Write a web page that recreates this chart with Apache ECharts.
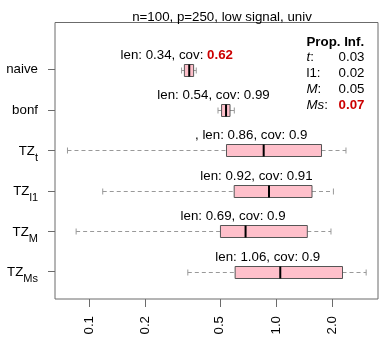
<!DOCTYPE html>
<html>
<head>
<meta charset="utf-8">
<script src="https://cdn.jsdelivr.net/npm/echarts@6/dist/echarts.min.js"></script>
<style>html,body{margin:0;padding:0;background:#fff}#c{width:388px;height:347px}</style>
</head>
<body>
<div id="c"></div>
<script>
// ---- data ----
const categories   = ['naive', 'bonf', 'TZ_t', 'TZ_l1', 'TZ_M', 'TZ_Ms'];
const whiskerLow   = [0.312, 0.489, 0.0764, 0.118, 0.085, 0.337];
const q1           = [0.323, 0.511, 0.543, 0.597, 0.504, 0.604];
const median       = [0.343, 0.540, 0.859, 0.917, 0.687, 1.054];
const q3           = [0.362, 0.567, 1.753, 1.559, 1.471, 2.271];
const whiskerHigh  = [0.374, 0.598, 2.37, 2.03, 1.97, 3.04];
const lenLabels    = ['0.34', '0.54', '0.86', '0.92', '0.69', '1.06'];
const covLabels    = ['0.62', '0.99', '0.9', '0.91', '0.9', '0.9'];
const covHighlight = [true, false, false, false, false, false];
const labelPrefix  = ['', '', ', ', '', '', ''];
const xTickValues  = [0.1, 0.2, 0.5, 1.0, 2.0];
const xTickLabels  = ['0.1', '0.2', '0.5', '1.0', '2.0'];
const propNames    = ['t', 'l1', 'M', 'Ms'];
const propItalic   = [true, false, true, true];
const propValues   = ['0.03', '0.02', '0.05', '0.07'];
const propHighlight= [false, false, false, true];
const titleText    = 'n=100, p=250, low signal, univ';
const xRange       = [0.0655, 3.518];

// ---- styling ----
const FF = "'Liberation Sans', Arial, Helvetica, sans-serif";
const FS = 13.3;
const RED = '#CC0000';
const FRAME = '#6b6b6b';
const lg = v => Math.log10(v);

const seriesData = categories.map((c, i) => [i + 1, lg(whiskerLow[i]), lg(q1[i]), lg(median[i]), lg(q3[i]), lg(whiskerHigh[i])]);

function catLabel(name) {
  const k = name.indexOf('_');
  if (k < 0) return '{n|' + name + '}';
  return '{a|' + name.slice(0, k) + '}{s|' + name.slice(k + 1) + '}';
}

function renderItem(params, api) {
  const i = params.dataIndex;
  const yv = api.value(0);
  const pLo = api.coord([api.value(1), yv]);
  const pQ1 = api.coord([api.value(2), yv]);
  const pMed = api.coord([api.value(3), yv]);
  const pQ3 = api.coord([api.value(4), yv]);
  const pHi = api.coord([api.value(5), yv]);
  const cy = Math.round(pMed[1]) + 0.5;
  const h = 6, cap = 3;
  const wStyle = { stroke: '#999999', lineWidth: 1, lineDash: [4, 3] };
  const txt = labelPrefix[i] + 'len: ' + lenLabels[i] + ', cov: ' +
    (covHighlight[i] ? '{r|' + covLabels[i] + '}' : covLabels[i]);
  return {
    type: 'group',
    children: [
      { type: 'line', shape: { x1: pLo[0], y1: cy, x2: pQ1[0], y2: cy }, style: wStyle },
      { type: 'line', shape: { x1: pQ3[0], y1: cy, x2: pHi[0], y2: cy }, style: wStyle },
      { type: 'line', shape: { x1: pLo[0], y1: cy - cap, x2: pLo[0], y2: cy + cap }, style: { stroke: '#999999', lineWidth: 1 } },
      { type: 'line', shape: { x1: pHi[0], y1: cy - cap, x2: pHi[0], y2: cy + cap }, style: { stroke: '#999999', lineWidth: 1 } },
      { type: 'rect', shape: { x: pQ1[0], y: cy - h, width: pQ3[0] - pQ1[0], height: 2 * h }, style: { fill: '#FFC0CB', stroke: '#555555', lineWidth: 1 } },
      { type: 'line', shape: { x1: pMed[0], y1: cy - h, x2: pMed[0], y2: cy + h }, style: { stroke: '#000000', lineWidth: 2 } },
      { type: 'text', x: pMed[0] - 12.5, y: cy - 15,
        style: { text: txt, fontSize: FS, fontFamily: FF, fill: '#000', align: 'center', verticalAlign: 'middle',
          rich: { r: { fontSize: FS, fontFamily: FF, fontWeight: 'bold', fill: RED } } } }
    ]
  };
}

// legend block (Prop. Inf.)
const legendX = 306.5, legendValX = 364.5, legendTitleY = 42, legendRow0 = 57.8, legendStep = 16;
const graphics = [{
  type: 'text', x: legendX, y: legendTitleY,
  style: { text: 'Prop. Inf.', fontSize: FS, fontFamily: FF, fontWeight: 'bold', fill: '#000', align: 'left', verticalAlign: 'middle' }
}];
propNames.forEach((n, i) => {
  const y = legendRow0 + i * legendStep;
  graphics.push({
    type: 'text', x: legendX, y: y,
    style: { text: (propItalic[i] ? '{i|' + n + '}' : n) + ':', fontSize: FS, fontFamily: FF, fill: '#000', align: 'left', verticalAlign: 'middle',
      rich: { i: { fontSize: FS, fontFamily: FF, fontStyle: 'italic', fill: '#000' } } }
  });
  graphics.push({
    type: 'text', x: legendValX, y: y,
    style: { text: propValues[i], fontSize: FS, fontFamily: FF, fill: propHighlight[i] ? RED : '#000',
      fontWeight: propHighlight[i] ? 'bold' : 'normal', align: 'right', verticalAlign: 'middle' }
  });
});

const chart = echarts.init(document.getElementById('c'), null, { renderer: 'canvas' });
chart.setOption({
  animation: false,
  backgroundColor: '#ffffff',
  title: {
    text: titleText, left: 217, top: 6, textAlign: 'center',
    textStyle: { fontSize: FS, fontWeight: 'normal', color: '#000', fontFamily: FF }
  },
  grid: { left: 55, right: 10, top: 22.5, bottom: 48, show: true, borderColor: FRAME, borderWidth: 1, backgroundColor: 'transparent' },
  xAxis: {
    type: 'value', min: lg(xRange[0]), max: lg(xRange[1]), position: 'bottom',
    axisLine: { show: false, onZero: false },
    splitLine: { show: false },
    axisTick: { show: true, length: 8, lineStyle: { color: FRAME }, customValues: xTickValues.map(lg) },
    axisLabel: {
      customValues: xTickValues.map(lg), rotate: 90, margin: 17,
      fontSize: FS, fontFamily: FF, color: '#000',
      formatter: v => {
        let best = 0;
        xTickValues.forEach((t, k) => { if (Math.abs(lg(t) - v) < Math.abs(lg(xTickValues[best]) - v)) best = k; });
        return xTickLabels[best];
      }
    }
  },
  yAxis: {
    type: 'value', inverse: true, min: -0.17, max: 6.68, position: 'left',
    axisLine: { show: false, onZero: false },
    splitLine: { show: false },
    axisTick: { show: true, length: 7, lineStyle: { color: FRAME }, customValues: categories.map((c, i) => i + 1) },
    axisLabel: {
      customValues: categories.map((c, i) => i + 1), margin: 17,
      formatter: v => catLabel(categories[Math.round(v) - 1] || ''),
      rich: {
        n: { fontSize: FS, fontFamily: FF, color: '#000' },
        a: { fontSize: FS, fontFamily: FF, color: '#000', lineHeight: 14, padding: [1.5, 0, 0, 0], verticalAlign: 'top' },
        s: { fontSize: 11, fontFamily: FF, color: '#000', lineHeight: 14, padding: [9, 0, 0, 0], verticalAlign: 'top' }
      }
    }
  },
  series: [{
    type: 'custom',
    renderItem: renderItem,
    encode: { x: [1, 2, 3, 4, 5], y: 0 },
    data: seriesData,
    clip: false
  }],
  graphic: graphics
});
</script>
</body>
</html>
